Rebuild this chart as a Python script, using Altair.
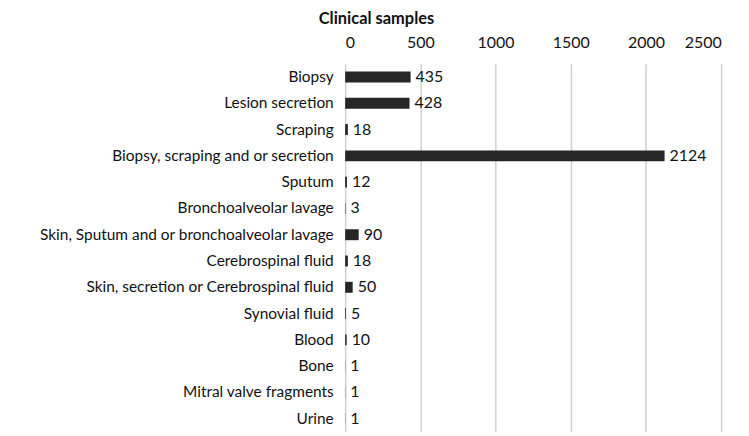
import altair as alt
import pandas as pd

categories = [
    "Biopsy",
    "Lesion secretion",
    "Scraping",
    "Biopsy, scraping and or secretion",
    "Sputum",
    "Bronchoalveolar lavage ",
    "Skin, Sputum and or bronchoalveolar lavage",
    "Cerebrospinal fluid",
    "Skin, secretion or Cerebrospinal fluid",
    "Synovial fluid",
    "Blood",
    "Bone",
    "Mitral valve fragments",
    "Urine",
]
values = [435, 428, 18, 2124, 12, 3, 90, 18, 50, 5, 10, 1, 1, 1]
x_ticks = [0, 500, 1000, 1500, 2000, 2500]

df = pd.DataFrame({"cat": categories, "val": values})
FONT = "Lato"
FS = 15.5

y = alt.Y("cat:N", sort=categories, title=None,
          axis=alt.Axis(domain=False, ticks=False, labelFontSize=FS, labelFont=FONT,
                        labelColor="#111111", labelPadding=12, labelLimit=400))
x = alt.X("val:Q", scale=alt.Scale(domain=[0, 2500], nice=False),
          title="Clinical samples",
          axis=alt.Axis(orient="top", values=x_ticks, format="d", domain=False, ticks=False,
                        labelFontSize=16, labelFont=FONT, labelColor="#111111",
                        labelPadding=13, grid=True, gridColor="#d0d0d0", gridWidth=1.5,
                        titleFont=FONT, titleFontSize=16.5, titleFontWeight="bold",
                        titleColor="#111111", titleX=31, titleY=-38, titleAlign="center"))

bars = alt.Chart(df).mark_bar(color="#262626", size=11).encode(x=x, y=y)
labels = alt.Chart(df).mark_text(align="left", baseline="middle", dx=5, fontSize=16,
                                 font=FONT, color="#111111").encode(
    x="val:Q", y=alt.Y("cat:N", sort=categories), text="val:Q")

chart = (bars + labels).properties(
    width=378, height=370,
    autosize=alt.AutoSizeParams(type="none"),
    padding={"left": 339, "top": 55, "right": 20, "bottom": 5},
).configure_view(stroke=None)

chart.save("out.html", embed_options={"renderer": "svg", "actions": False})
